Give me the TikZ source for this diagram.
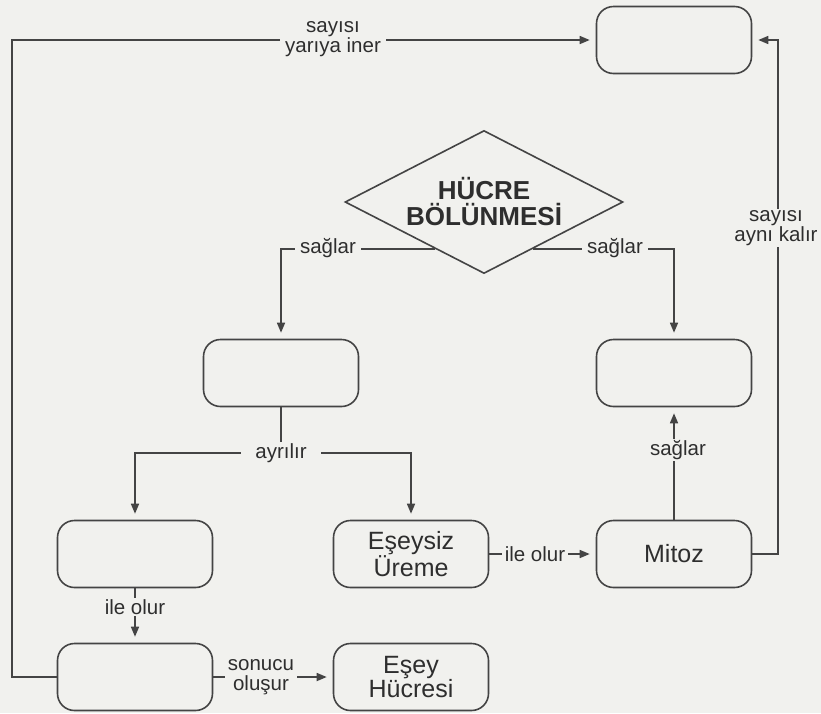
\documentclass[tikz,border=0pt]{standalone}
\usepackage{fontspec}
\setmainfont{Liberation Sans}
\usetikzlibrary{shapes.geometric,arrows.meta,calc}
\definecolor{bg}{HTML}{F1F1EE}
\definecolor{ln}{HTML}{444444}
\definecolor{tx}{HTML}{2E2E2E}
\begin{document}
\begin{tikzpicture}[x=1pt,y=-1pt,
 box/.style={draw=ln, line width=1.6pt, rounded corners=17pt, minimum width=155pt, minimum height=67pt, text=tx, font=\fontsize{25}{24.5}\selectfont, align=center, inner sep=0pt},
 lbl/.style={fill=bg, text=tx, font=\fontsize{20.5}{20}\selectfont, align=center, inner xsep=5pt, inner ysep=1pt},
 conn/.style={draw=ln, line width=1.6pt},
 arr/.style={conn, -{Triangle[length=10pt,width=8pt]}, shorten >=6pt},
]
\fill[bg] (0,0) rectangle (821,713);
\useasboundingbox (0,0) rectangle (821,713);

\node[box] (top) at (674,40) {};
\node[diamond, draw=ln, line width=1.6pt, minimum width=278pt, minimum height=143pt, aspect=1.94, inner sep=0pt, text=tx, font=\bfseries\fontsize{26}{26}\selectfont, align=center] (d) at (484,202) {HÜCRE\\BÖLÜNMESİ};
\node[box] (b2) at (281,373) {};
\node[box] (b3) at (674,373) {};
\node[box] (b4) at (135,554) {};
\node[box] (b5) at (411,554) {Eşeysiz\\Üreme};
\node[box] (mitoz) at (674,554) {Mitoz};
\node[box] (b6) at (135,677) {};
\node[box] (esey) at (411,677) {Eşey\\Hücresi};

\coordinate (dl) at ($(d.west)!0.65!(d.south)$);
\coordinate (dr) at ($(d.east)!0.65!(d.south)$);
\coordinate (lx) at (12,0);
\coordinate (rx) at (778,0);
\coordinate (j) at (281,453);

\draw[arr] (b6.west) -| (lx |- top.west) -- (top.west);
\draw[arr] (mitoz.east) -| (rx |- top.east) -- (top.east);
\draw[arr] (dl) -| (b2.north);
\draw[arr] (dr) -| (b3.north);
\draw[conn] (b2.south) -- (j);
\draw[arr] (j) -| (b4.north);
\draw[arr] (j) -| (b5.north);
\draw[arr] (b5) -- (mitoz);
\draw[arr] (b4) -- (b6);
\draw[arr] (b6) -- (esey);
\draw[arr] (mitoz) -- (b3);

\node[lbl] (l1) at (333,39) {sayısı\\yarıya iner};
\node[lbl] (l2) at (776,228) {sayısı\\aynı kalır};
\node[lbl] (l3) at (328,248) {sağlar};
\node[lbl] (l4) at (615,248) {sağlar};
\node[lbl, inner xsep=14pt] (l5) at (j) {ayrılır};
\node[lbl, inner xsep=3pt] (l6) at (535,554) {ile olur};
\node[lbl] (l7) at (135,607) {ile olur};
\node[lbl, inner xsep=3pt] (l8) at (261,677) {sonucu\\oluşur};
\node[lbl] (l9) at (678,450) {sağlar};
\end{tikzpicture}
\end{document}
